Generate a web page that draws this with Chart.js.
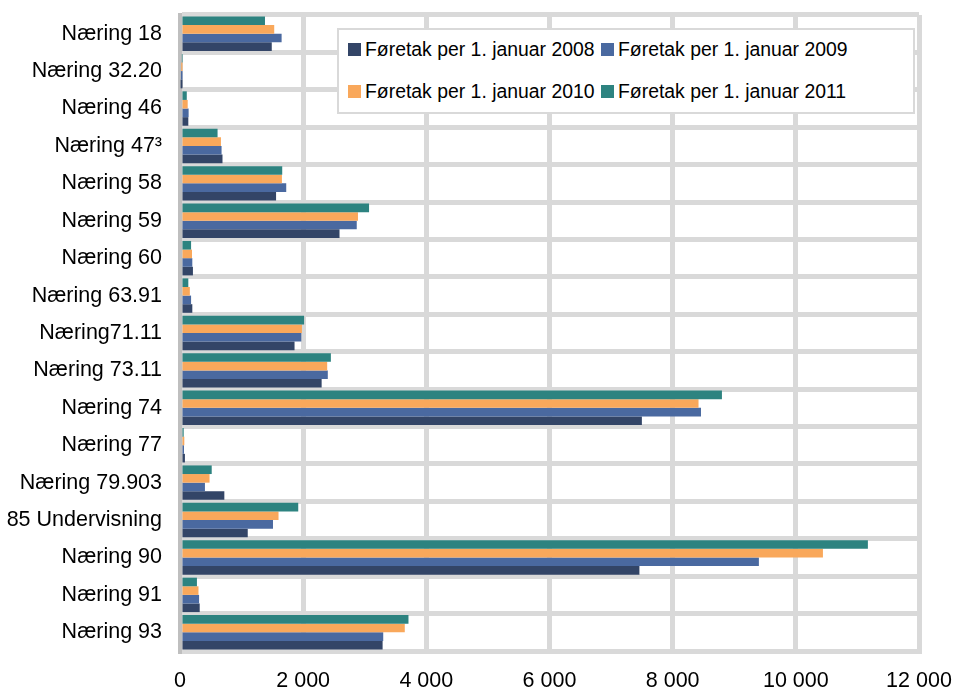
<!DOCTYPE html>
<html lang="no">
<head>
<meta charset="UTF-8">
<title>Føretak per næring</title>
<script src="https://cdn.jsdelivr.net/npm/chart.js@4/dist/chart.umd.min.js"></script>
<style>
   html, body { margin: 0; padding: 0; background: #fff; }
   .wrap { position: relative; width: 957px; height: 689px; font-family: "Liberation Sans", Arial, sans-serif; }
   .legend { position: absolute; left: 337px; top: 28px; width: 578px; height: 86px; box-sizing: border-box;
      border: 2px solid #d9d9d9; background: #fff; }
   .legend span { position: absolute; font-size: 19.4px; color: #000; white-space: nowrap; line-height: 22px; }
   .legend i { position: absolute; width: 13px; height: 13px; }
</style>
</head>
<body>
<div class="wrap">
   <canvas id="chart" width="957" height="689"></canvas>
   <div class="legend" id="legend"></div>
</div>
<script>
   // kategorier (ovenfra og ned)
   var labels = ['Næring 18', 'Næring 32.20', 'Næring 46', 'Næring 47³', 'Næring 58', 'Næring 59', 'Næring 60',
      'Næring 63.91', 'Næring71.11', 'Næring 73.11', 'Næring 74', 'Næring 77', 'Næring 79.903',
      '85 Undervisning', 'Næring 90', 'Næring 91', 'Næring 93'];

   var ar2008 = [1490, 10, 135, 690, 1560, 2590, 210, 200, 1860, 2300, 7500, 80, 720, 1100, 7460, 320, 3290];
   var ar2009 = [1650, 15, 140, 675, 1725, 2870, 200, 180, 1970, 2400, 8460, 65, 405, 1510, 9400, 310, 3300];
   var ar2010 = [1530, 20, 125, 665, 1655, 2890, 195, 160, 1980, 2390, 8420, 70, 480, 1600, 10440, 300, 3650];
   var ar2011 = [1380, 30, 110, 610, 1660, 3070, 180, 135, 2015, 2450, 8800, 60, 515, 1920, 11170, 275, 3710];

   var xTicks = [0, 2000, 4000, 6000, 8000, 10000, 12000];

   var navy = '#334567', blue = '#4a69a0', orange = '#f9a85b', teal = '#2d8380';

   var series = [
      { label: 'Føretak per 1. januar 2008', data: ar2008, color: navy },
      { label: 'Føretak per 1. januar 2009', data: ar2009, color: blue },
      { label: 'Føretak per 1. januar 2010', data: ar2010, color: orange },
      { label: 'Føretak per 1. januar 2011', data: ar2011, color: teal }
   ];

   // 2011 skal ligge øverst i hver gruppe
   var datasets = series.slice().reverse().map(function (s) {
      return {
         label: s.label,
         data: s.data,
         backgroundColor: s.color,
         categoryPercentage: 0.92,
         barPercentage: 1.0
      };
   });

   Chart.defaults.font.family = '"Liberation Sans", Arial, sans-serif';
   Chart.defaults.color = '#000';

   var ctx = document.getElementById('chart').getContext('2d');
   var chart = new Chart(ctx, {
      type: 'bar',
      data: { labels: labels, datasets: datasets },
      options: {
         indexAxis: 'y',
         responsive: false,
         animation: false,
         layout: { padding: { top: 15, right: 38, left: 0, bottom: 0 } },
         plugins: {
            legend: { display: false },
            tooltip: { enabled: false }
         },
         scales: {
            x: {
               min: 0,
               max: 12000,
               afterBuildTicks: function (scale) {
                  scale.ticks = xTicks.map(function (v) { return { value: v }; });
               },
               afterFit: function (scale) {
                  scale.height = 38;
                  scale.paddingLeft = 0;
                  scale.paddingRight = 0;
               },
               ticks: {
                  padding: 17,
                  font: { size: 21.5 },
                  maxRotation: 0,
                  callback: function (v) { return String(v).replace(/\B(?=(\d{3})+(?!\d))/g, ' '); }
               },
               grid: { color: '#d9d9d9', lineWidth: 5, drawTicks: false },
               border: { color: '#d9d9d9', width: 5 }
            },
            y: {
               afterFit: function (scale) {
                  scale.width = 180;
                  scale.paddingTop = 0;
                  scale.paddingBottom = 0;
               },
               ticks: { padding: 18, font: { size: 21.5 }, autoSkip: false },
               grid: { color: '#d9d9d9', lineWidth: 5, drawTicks: false, offset: true },
               border: { color: '#bfbfbf', width: 4 }
            }
         }
      }
   });

   // legende: to kolonner, to rader
   var legend = document.getElementById('legend');
   var pos = [[9, 8], [262, 8], [9, 50], [262, 50]];
   series.forEach(function (s, i) {
      var box = document.createElement('i');
      box.style.background = s.color;
      box.style.left = pos[i][0] + 'px';
      box.style.top = (pos[i][1] + 5) + 'px';
      var txt = document.createElement('span');
      txt.textContent = s.label;
      txt.style.left = (pos[i][0] + 17) + 'px';
      txt.style.top = pos[i][1] + 'px';
      legend.appendChild(box);
      legend.appendChild(txt);
   });
</script>
</body>
</html>
